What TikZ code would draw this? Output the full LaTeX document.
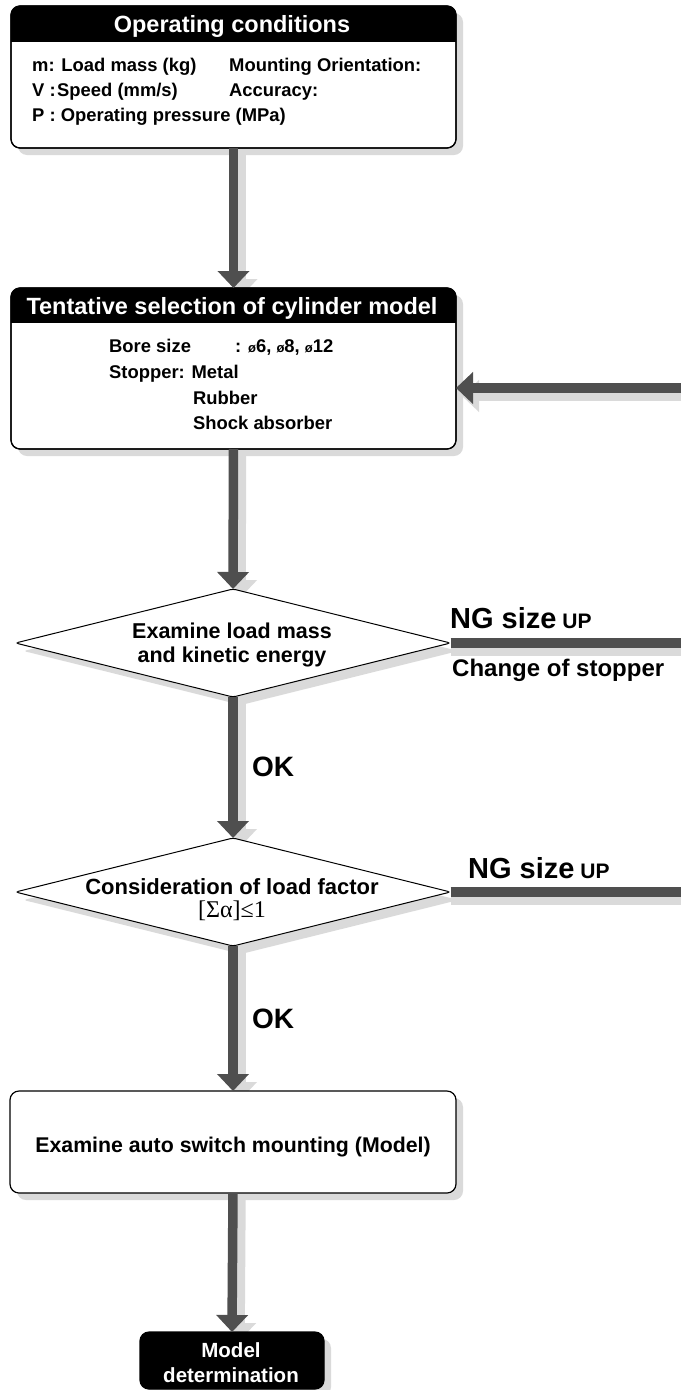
\documentclass[tikz,border=0pt]{standalone}
\usepackage{fontspec}
\setmainfont{Liberation Sans}
\newfontfamily\serifff{Liberation Serif}
\usetikzlibrary{arrows.meta,shapes.geometric}
\pgfdeclarelayer{bg}
\pgfsetlayers{bg,main}
\definecolor{arrc}{HTML}{4F4F4F}
\definecolor{shc}{HTML}{DADADA}
\newcommand{\fs}[1]{\fontsize{#1}{#1}\selectfont}
\begin{document}
\begin{tikzpicture}[x=1pt,y=-1pt,
  boxw/.style={draw=black, line width=1.2pt, rounded corners=9pt, fill=white,
    rectangle, inner sep=0pt, outer sep=0pt, anchor=north west},
  boxb/.style={boxw, fill=black},
  dia/.style={diamond, draw=black, line width=1pt, fill=white, inner sep=0pt,
    outer sep=0pt, aspect=4, minimum width=435, minimum height=108, rounded corners=3pt},
  diash/.style={diamond, fill=shc, inner sep=0pt, outer sep=0pt, aspect=4,
    minimum width=435, minimum height=108, rounded corners=3pt},
  varr/.style={arrc, line width=9.5pt, -{Triangle[width=31pt,length=17pt]}},
  varrsh/.style={varr, shc},
  hline/.style={arrc, line width=9.5pt},
  hlinesh/.style={shc, line width=9.5pt},
  txt/.style={anchor=base west, inner sep=0pt, font=\fs{18.4}\bfseries},
  hdr/.style={anchor=base, inner sep=0pt, white, font=\fs{23.5}\bfseries},
  lbl/.style={anchor=base west, inner sep=0pt, font=\bfseries},
]
\useasboundingbox (0,0) rectangle (681,1390);

% ---------- boxes ----------
\node[boxw, minimum width=445, minimum height=142] (b1) at (11,6) {};
\begin{scope}
  \clip[rounded corners=9pt] (b1.north west) rectangle (b1.south east);
  \fill[black] (b1.north west) rectangle ([shift={(0,36)}]b1.north east);
\end{scope}
\draw[line width=1.2pt, rounded corners=9pt] (b1.north west) rectangle (b1.south east);

\node[boxw, minimum width=445, minimum height=161] (b2) at (11,288) {};
\begin{scope}
  \clip[rounded corners=9pt] (b2.north west) rectangle (b2.south east);
  \fill[black] (b2.north west) rectangle ([shift={(0,35)}]b2.north east);
\end{scope}
\draw[line width=1.2pt, rounded corners=9pt] (b2.north west) rectangle (b2.south east);

\coordinate (c1) at (233,643);
\coordinate (c2) at (233,892);
\node[dia] (d1) at (c1) {};
\node[dia] (d2) at (c2) {};

\node[boxw, minimum width=446, minimum height=102] (b3) at (10,1091) {};
\node[boxb, minimum width=184, minimum height=57] (b4) at (140,1332) {};

\coordinate (r1) at (681,388);

% ---------- shadows ----------
\begin{pgfonlayer}{bg}
  \foreach \b in {b1,b2,b3,b4}{
    \fill[shc, rounded corners=9pt] ([shift={(7,7)}]\b.north west) rectangle ([shift={(7,7)}]\b.south east);
  }
  \node[diash] at ([shift={(8,8)}]c1) {};
  \node[diash] at ([shift={(8,8)}]c2) {};
  \draw[varrsh] ([shift={(8,0)}]b1.south) -- ([shift={(8,8)}]b2.north);
  \draw[varrsh] ([shift={(8,0)}]b2.south) -- ([shift={(8,8)}]d1.north);
  \draw[varrsh] ([shift={(8,0)}]d1.south) -- ([shift={(8,8)}]d2.north);
  \draw[varrsh] ([shift={(8,0)}]d2.south) -- ([shift={(8,8)}]b3.north);
  \draw[varrsh] ([shift={(8,0)}]b3.south) -- ([shift={(8,8)}]b4.north);
  \draw[varrsh] ([shift={(0,8)}]r1) -- ([shift={(6,8)}]r1 -| b2.east);
  \draw[hlinesh] ([shift={(0,8)}]d1.east) -- ([shift={(0,8)}]d1.east -| r1);
  \draw[hlinesh] ([shift={(0,8)}]d2.east) -- ([shift={(0,8)}]d2.east -| r1);
\end{pgfonlayer}

% ---------- connectors ----------
\draw[varr] (b1.south) -- (b2.north);
\draw[varr] (b2.south) -- (d1.north);
\draw[varr] (d1.south) -- (d2.north);
\draw[varr] (d2.south) -- (b3.north);
\draw[varr] (b3.south) -- (b4.north);
\draw[varr] (r1) -- (r1 -| b2.east);
\draw[hline] (d1.east) -- (d1.east -| r1);
\draw[hline] (d2.east) -- (d2.east -| r1);

% ---------- texts ----------
\node[hdr] (h1) at (232,32.5) {Operating conditions};
\node[txt] (t11) at (32,71) {m: Load mass (kg)};
\node[txt] (t12) at (229,71) {Mounting Orientation:};
\node[txt] (t13) at (32,96) {V :};
\node[txt] (t14) at (57,96) {Speed (mm/s)};
\node[txt] (t15) at (229,96) {Accuracy:};
\node[txt] (t16) at (32,121) {P : Operating pressure (MPa)};

\node[hdr] (h2) at (232,314) {Tentative selection of cylinder model};
\node[txt] (t21) at (109,352) {Bore size};
\node[txt] (t22) at (235,352) {: {\fs{13}ø}6, {\fs{13}ø}8, {\fs{13}ø}12};
\node[txt] (t23) at (109,378) {Stopper: Metal};
\node[txt] (t24) at (193,404) {Rubber};
\node[txt] (t25) at (193,429) {Shock absorber};

\node[align=center, inner sep=0pt, font=\fontsize{21.5}{24}\selectfont\bfseries] (dt1) at ([shift={(-1,2)}]d1.center) {Examine load mass\\and kinetic energy};
\node[align=center, inner sep=0pt, font=\fontsize{22}{23}\selectfont\bfseries] (dt2) at ([shift={(-1,8)}]d2.center) {Consideration of load factor\\{\serifff\mdseries\fs{24}[Σα]≤1}};

\node[lbl, font=\fs{29}\bfseries] (ng1) at (450,628) {NG size\fs{21} UP};
\node[lbl, font=\fs{24}\bfseries] (cs1) at (452,676) {Change of stopper};
\node[lbl, font=\fs{29}\bfseries] (ng2) at (468,878) {NG size\fs{21} UP};
\node[lbl, font=\fs{28}\bfseries] (ok1) at (252,776) {OK};
\node[lbl, font=\fs{28}\bfseries] (ok2) at (252,1028) {OK};

\node[anchor=base, inner sep=0pt, font=\fs{21.3}\bfseries] (t31) at (b3.center |- 0,1152) {Examine auto switch mounting (Model)};
\node[align=center, inner sep=0pt, white, font=\fontsize{20.5}{25}\selectfont\bfseries] (t41) at ([shift={(-1,2)}]b4.center) {Model\\determination};
\end{tikzpicture}
\end{document}
